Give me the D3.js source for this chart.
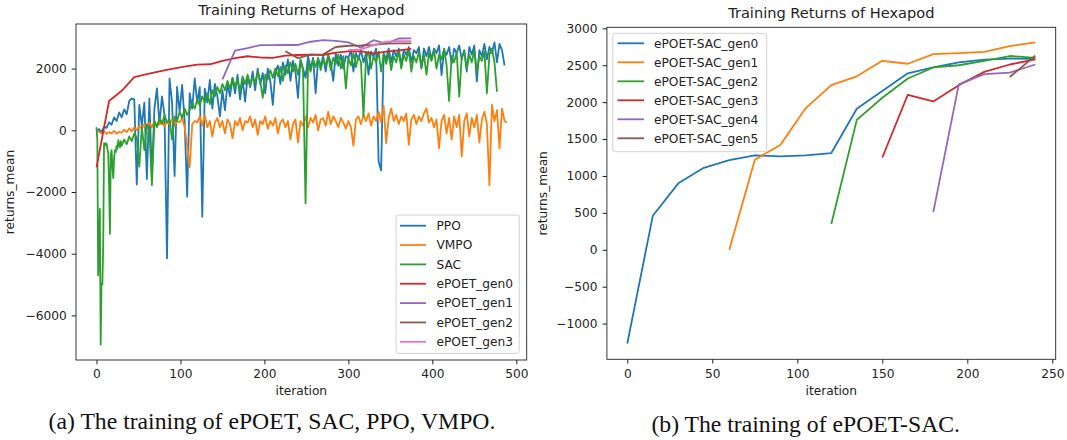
<!DOCTYPE html>
<html>
<head>
<meta charset="utf-8">
<script src="https://cdn.jsdelivr.net/npm/d3@7"></script>
<style>
  body { margin: 0; background: #fff; }
  text { font-family: "DejaVu Sans", sans-serif; }
</style>
</head>
<body>
<svg id="fig" width="1067" height="440"></svg>
<script>
// ---- panel (a): baselines, one value every 3 iterations ----
const baseStep = 3;

const ppoReturns = [
  -50, 40, -60, 120, 80, 260, 180, 420, 300, 580,
  420, 680, 520, 950, 1030, 1000, -1760, 820, 150, 900,
  -1580, 1030, -1470, 700, 1360, 200, 1100, 500, -4150, 1680,
  900, -1480, 1410, 600, 1470, 300, -2150, 1200, 700, 1680,
  900, 1400, -2800, 1350, 900, 1630, 700, 1500, 1100, 450,
  1300, 650, 1500, 1100, 1700, 1200, 1800, 1000, 1650, 930,
  1750, 1400, 1900, 1300, 2000, 1500, 1850, 1200, 2000, 1600,
  820, 1900, 2100, 1500, 2200, 1800, 2300, 1600, 2250, 1900,
  1050, 2300, 2000, 1700, 2400, 2000, 2350, 1200, 2300, 2100,
  2400, 1900, 2450, 2200, 1600, 2500, 2100, 2450, 2000, 2400,
  2350, 2600, 1900, 2500, 2300, 2600, 2200, 2500, 1800, 2550,
  2400, 2650, -1000, -1300, 2500, 2300, 2650, 2200, 2600, 2400,
  2650, 2100, 2600, 2450, 2700, 2200, 2600, 2500, 2700, 2000,
  2650, 2400, 2700, 2300, 2650, 2500, 2750, 1790, 2600, 2450,
  2700, 2150, 2650, 2500, 2750, 2300, 2600, 1900, 2700, 2450,
  2750, 1580, 2600, 2400, 2800, 2300, 2700, 2500, 2850, 2200,
  2800, 2600, 2100
];

const vmpoReturns = [
  0, -50, -100, -30, -120, -60, -100, -20, -110, -50,
  -80, 20, -60, 60, -40, 100, 0, 150, 50, 200,
  80, 250, 100, 300, 150, 200, 320, 120, 280, 200,
  350, 150, 300, 250, 400, 100, -500, -1200, 200, 300,
  250, 450, 150, 480, 100, 300, -200, 250, 400, 100,
  300, -100, 350, 200, -250, 300, 150, 400, 0, 300,
  250, 450, 100, 350, -150, 300, 200, 450, 50, 300,
  150, 400, -100, 250, 350, 100, 300, -300, 200, 350,
  -400, 300, 150, 450, 100, 400, 250, 500, 0, 350,
  400, 150, 600, 200, 450, 300, 100, 400, 250, 50,
  300, 100, -500, 350, 450, 200, 500, 300, 550, 150,
  450, 300, 600, 250, 790, -420, 400, 700, 300, 500,
  200, 450, 300, 550, -470, 350, 500, 200, 450, 300,
  550, 710, 250, 400, 100, 350, -580, 300, 500, -100,
  400, -300, 450, 100, 500, -850, 300, 550, -200, 400,
  100, 500, -400, 350, 600, 200, -1780, 820, 300, 650,
  -580, 700, 300, 250
];

// SAC: every iteration for the first 30, then every 3
const sacEarly = [
  100, -300, -4700, -4000, -2550, -6940, -4950, -5000, -3770, -420,
  -500, -420, -430, -600, -750, -1800, -3350, -800, -640, -1200,
  -1550, -900, -640, -700, -500, -600, -320, -450, -550, -350
];
const sacLate = [
  -500, -300, -450, -200, -350, -100, -250, -1180, 100, -640,
  200, 0, -1780, 300, 100, 400, 200, 500, 250, 350,
  -300, 450, 300, 600, 400, 700, 500, 650, 900, 700,
  1000, 800, 1100, 900, 1200, 850, 1300, 1100, 1400, 1200,
  1500, 1300, 1600, 1350, 1700, 1400, 1650, 1250, 1750, 1500,
  1800, 1450, 1700, 1550, 1900, 1600, 1050, 1800, 1650, 1950,
  1700, 2000, 1750, 2050, 1600, 2100, 1850, 2200, 1900, 2150,
  1800, 2250, 1950, -2370, 2200, 1900, 2300, 2050, 2350, 1950,
  2300, 2100, 2400, 1950, 2350, 2150, 2450, 2000, 2400, 1360,
  2350, 2100, 2500, 2050, 2400, 2200, 450, 2350, 2550, 2000,
  2400, 2200, 2550, 1900, 2450, 2150, 2500, 1950, 2400, 2200,
  2550, 2000, 2450, 2250, 2600, 1900, 2400, 2200, 2550, 2050,
  2450, 1800, 2500, 2250, 2600, 2000, 2450, 2300, 2650, 2100,
  950, 2400, 2200, 2550, 1090, 2350, 2550, 2000, 2450, 2200,
  2600, 1900, 2400, 2250, 2550, 1200, 2450, 2650, 2200, 1250
];

// ePOET generations, one value every 15 iterations
const genStep = 15;
const epoetStart = [0, 150, 225, 300];
const epoetGen0 = [-1200, 950, 1280, 1720, 1820, 1910, 1990, 2060, 2130, 2140, 2250, 2340, 2400,
                   2360, 2350, 2420, 2440, 2450, 2440, 2520, 2560, 2560, 2490, 2550, 2590, 2640];
const epoetGen1 = [1650, 2580, 2660, 2760, 2760, 2765, 2765, 2870, 2925, 2900, 2850, 2680, 2920, 2810, 2975, 2980];
const epoetGen2 = [2560, 2340, 2450, 2460, 2700, 2740, 2750, 2770, 2810, 2815, 2820];
const epoetGen3 = [2600, 2620, 2760, 2870, 2890, 2890];

const leftLabels = ["PPO", "VMPO", "SAC", "ePOET_gen0", "ePOET_gen1", "ePOET_gen2", "ePOET_gen3"];
const leftXTicks = [0, 100, 200, 300, 400, 500];
const leftYTicks = [-6000, -4000, -2000, 0, 2000];

// ---- panel (b): ePOET-SAC generations ----
const sacGenStart = [0, 60, 120, 150, 180, 225];
const sacGen0 = [-1270, 460, 900, 1110, 1215, 1280, 1265, 1280, 1310, 1910, 2150, 2390, 2470, 2540, 2575, 2590, 2585];
const sacGen1 = [0, 1220, 1420, 1920, 2230, 2350, 2560, 2520, 2650, 2665, 2680, 2760, 2810];
const sacGen2 = [350, 1760, 2060, 2320, 2470, 2500, 2560, 2625, 2600];
const sacGen3 = [1250, 2100, 2010, 2230, 2410, 2510, 2580];
const sacGen4 = [510, 2240, 2380, 2400, 2510];
const sacGen5 = [2340, 2630];

const rightLabels = ["ePOET-SAC_gen0", "ePOET-SAC_gen1", "ePOET-SAC_gen2",
                     "ePOET-SAC_gen3", "ePOET-SAC_gen4", "ePOET-SAC_gen5"];
const rightXTicks = [0, 50, 100, 150, 200, 250];
const rightYTicks = [-1000, -500, 0, 500, 1000, 1500, 2000, 2500, 3000];

const colors = ["#1f77b4", "#ff7f0e", "#2ca02c", "#d62728", "#9467bd", "#8c564b", "#e377c2"];

// helpers to pair values with iterations
const stepped = (vals, start, step) => vals.map((v, i) => [start + i * step, v]);

const leftSeries = [
  stepped(ppoReturns, 0, baseStep),
  stepped(vmpoReturns, 0, baseStep),
  stepped(sacEarly, 0, 1).concat(stepped(sacLate, 30, baseStep)),
  stepped(epoetGen0, epoetStart[0], genStep),
  stepped(epoetGen1, epoetStart[1], genStep),
  stepped(epoetGen2, epoetStart[2], genStep),
  stepped(epoetGen3, epoetStart[3], genStep)
];

const rightSeries = [sacGen0, sacGen1, sacGen2, sacGen3, sacGen4, sacGen5]
  .map((vals, i) => stepped(vals, sacGenStart[i], genStep));

const svg = d3.select("#fig");
const fs = 12.2;

function panel(o) {
  const g = svg.append("g");
  const x = d3.scaleLinear().domain(o.xDomain).range([o.left, o.right]);
  const y = d3.scaleLinear().domain(o.yDomain).range([o.bottom, o.top]);
  const line = d3.line().x(d => x(d[0])).y(d => y(d[1]));

  g.selectAll("path.series")
    .data(o.series)
    .enter()
    .append("path")
    .attr("class", "series")
    .attr("fill", "none")
    .attr("stroke", (d, i) => colors[i])
    .attr("stroke-width", 1.8)
    .attr("stroke-linejoin", "round")
    .attr("d", line);

  const xAxis = g.append("g")
    .attr("transform", `translate(0,${o.bottom})`)
    .call(d3.axisBottom(x).tickValues(o.xTicks).tickFormat(d3.format("d"))
      .tickSize(4.3).tickSizeOuter(0).tickPadding(5.3));
  const yAxis = g.append("g")
    .attr("transform", `translate(${o.left},0)`)
    .call(d3.axisLeft(y).tickValues(o.yTicks).tickFormat(d3.format("d"))
      .tickSize(4.3).tickSizeOuter(0).tickPadding(5));
  [xAxis, yAxis].forEach(a => {
    a.select(".domain").remove();
    a.attr("font-size", fs).attr("font-family", "DejaVu Sans");
    a.selectAll("line").attr("stroke", "#000").attr("stroke-width", 0.9);
    a.selectAll("text").attr("fill", "#222");
  });

  g.append("rect")
    .attr("x", o.left).attr("y", o.top)
    .attr("width", o.right - o.left).attr("height", o.bottom - o.top)
    .attr("fill", "none").attr("stroke", "#222").attr("stroke-width", 0.9);

  g.append("text")
    .attr("x", (o.left + o.right) / 2).attr("y", o.top - 9.5)
    .attr("text-anchor", "middle").attr("font-size", 14.6).attr("fill", "#222")
    .text("Training Returns of Hexapod");

  g.append("text")
    .attr("x", (o.left + o.right) / 2).attr("y", 395)
    .attr("text-anchor", "middle").attr("font-size", fs).attr("fill", "#222")
    .text("iteration");

  g.append("text")
    .attr("transform", `translate(${o.yLabelX},${(o.top + o.bottom) / 2}) rotate(-90)`)
    .attr("text-anchor", "middle").attr("font-size", fs).attr("fill", "#222")
    .text("returns_mean");

  const L = o.legend;
  const lg = g.append("g");
  lg.append("rect")
    .attr("x", L.x0).attr("y", L.y0)
    .attr("width", L.x1 - L.x0).attr("height", L.y1 - L.y0)
    .attr("rx", 2.5)
    .attr("fill", "#fff").attr("fill-opacity", 0.8)
    .attr("stroke", "#d0d0d0").attr("stroke-width", 1);
  const rows = lg.selectAll("g.row")
    .data(o.labels)
    .enter()
    .append("g")
    .attr("transform", (d, i) => `translate(0,${L.row0 + i * L.rowGap})`);
  rows.append("line")
    .attr("x1", L.h0).attr("x2", L.h1)
    .attr("stroke", (d, i) => colors[i]).attr("stroke-width", 1.8);
  rows.append("text")
    .attr("x", L.tx).attr("dy", "0.35em")
    .attr("font-size", fs).attr("fill", "#222")
    .text(d => d);

  svg.append("text")
    .attr("x", o.capX).attr("y", o.capY)
    .attr("text-anchor", "middle")
    .style("font-family", "'Liberation Serif', 'Times New Roman', serif")
    .attr("font-size", 23.7).attr("fill", "#111")
    .text(o.caption);
}

panel({
  left: 76, right: 526.7, top: 24, bottom: 360,
  xDomain: [-24.4, 512.4], yDomain: [-7445, 3445],
  xTicks: leftXTicks, yTicks: leftYTicks,
  series: leftSeries, labels: leftLabels,
  yLabelX: 13.5,
  legend: { x0: 396.1, x1: 519.2, y0: 215, y1: 353.3, row0: 225.7, rowGap: 19.35, h0: 400, h1: 426, tx: 436.5 },
  caption: "(a) The training of ePOET, SAC, PPO, VMPO.", capX: 272, capY: 428.5
});

panel({
  left: 606.9, right: 1055.7, top: 27.3, bottom: 359.3,
  xDomain: [-12, 252], yDomain: [-1484, 3014],
  xTicks: rightXTicks, yTicks: rightYTicks,
  series: rightSeries, labels: rightLabels,
  yLabelX: 547,
  legend: { x0: 612.8, x1: 766.7, y0: 33.3, y1: 151.7, row0: 43.3, rowGap: 19, h0: 617.5, h1: 644, tx: 654 },
  caption: "(b) The training of ePOET-SAC.", capX: 805.7, capY: 431.5
});
</script>
</body>
</html>
